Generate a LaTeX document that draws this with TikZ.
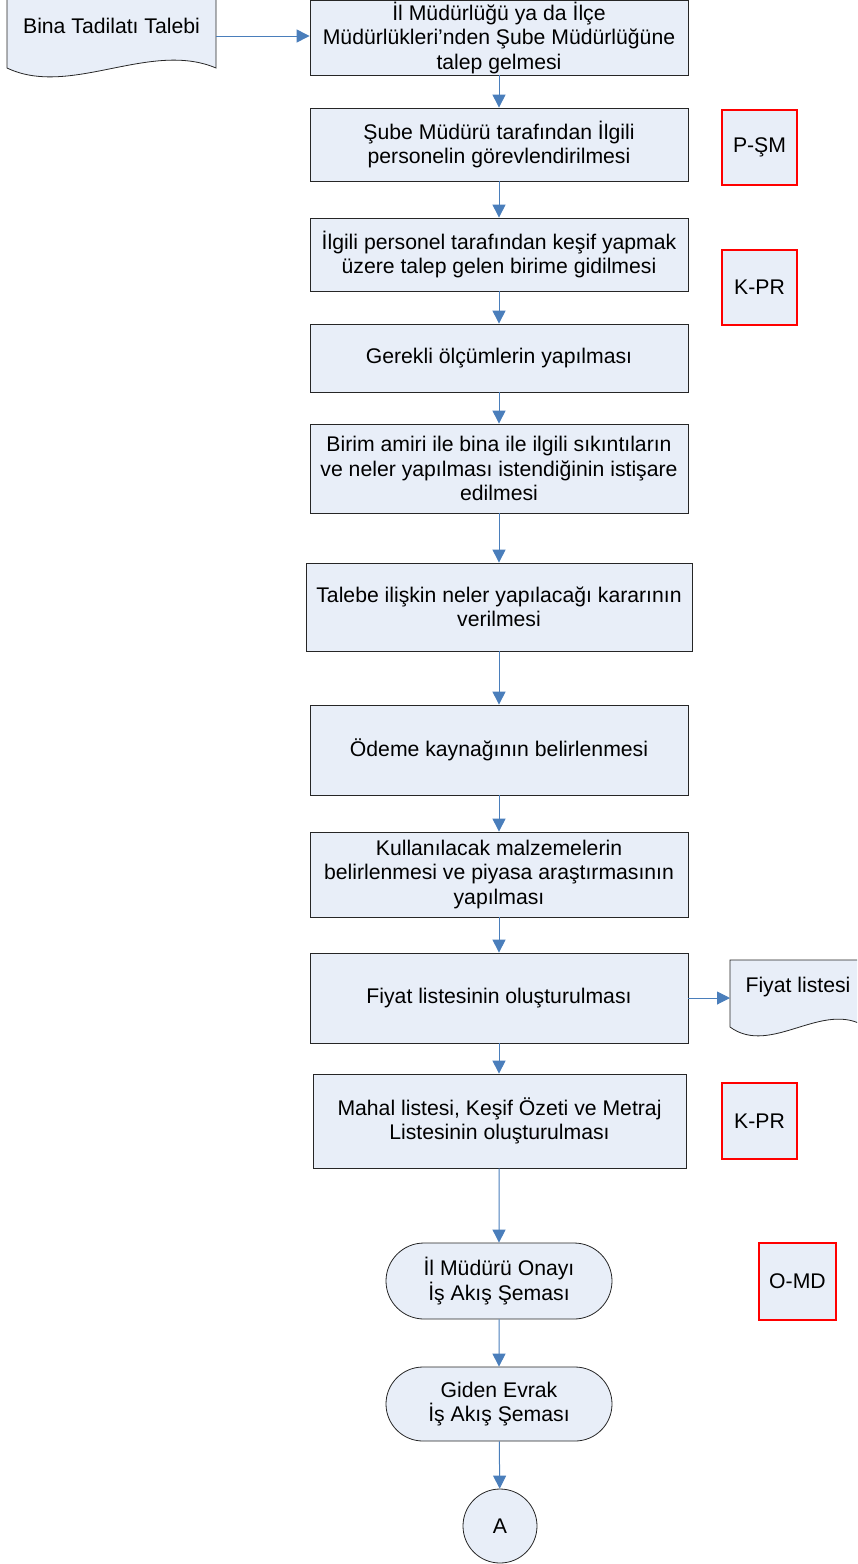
\documentclass[tikz,border=0pt]{standalone}
\usepackage{fontspec}
\setmainfont{Liberation Sans}
\usetikzlibrary{arrows.meta,shapes.misc}
\definecolor{boxfill}{HTML}{E8EEF8}
\definecolor{arrowblue}{HTML}{4A7EBB}
\tikzset{
  txt/.style={font=\fontsize{21.2}{24.5}\selectfont, align=center},
  proc/.style={txt, draw=black!85, fill=boxfill, line width=0.8pt, inner sep=0pt, minimum width=378pt},
  term/.style={txt, draw=black!85, fill=boxfill, line width=0.8pt, inner sep=0pt, rounded rectangle, minimum width=226pt},
  tag/.style={txt, draw=red, fill=boxfill, line width=2.8pt, inner sep=0pt, minimum width=75pt, minimum height=75pt},
  docshape/.style={draw=black!85, fill=boxfill, line width=0.8pt},
  flow/.style={draw=arrowblue, line width=1pt, -{Triangle[length=13pt,width=13pt]}}
}
\begin{document}
\begin{tikzpicture}[x=1pt,y=-1pt]
\useasboundingbox (0,0) rectangle (857,1564);
\clip (0,0) rectangle (857,1564);
% document shapes
\draw[docshape] (7,-3) -- (7,68) .. controls (70,98) and (150,40) .. (216,68) -- (216,-3) -- cycle;
\node[txt] (doc1) at (111.5,26) {Bina Tadilatı Talebi};
\coordinate (doc1r) at (216,36);
\draw[docshape] (730,960) -- (730,1027) .. controls (771,1057) and (823,999) .. (866,1027) -- (866,960) -- cycle;
\node[txt] (doc2) at (798,987) {Fiyat listesi};
\coordinate (doc2l) at (730,998);
% process boxes
\node[proc, minimum height=75pt] (b1) at (499,37.5) {İl Müdürlüğü ya da İlçe\\Müdürlükleri’nden Şube Müdürlüğüne\\talep gelmesi};
\node[proc, minimum height=73pt] (b2) at (499,144.5) {Şube Müdürü tarafından İlgili\\personelin görevlendirilmesi};
\node[proc, minimum height=73pt] (b3) at (499,254.5) {İlgili personel tarafından keşif yapmak\\üzere talep gelen birime gidilmesi};
\node[proc, minimum height=68pt] (b4) at (499,358) {Gerekli ölçümlerin yapılması};
\node[proc, minimum height=89pt] (b5) at (499,468.5) {Birim amiri ile bina ile ilgili sıkıntıların\\ve neler yapılması istendiğinin istişare\\edilmesi};
\node[proc, minimum height=88pt, minimum width=386pt] (b6) at (499,607) {Talebe ilişkin neler yapılacağı kararının\\verilmesi};
\node[proc, minimum height=90pt] (b7) at (499,750) {Ödeme kaynağının belirlenmesi};
\node[proc, minimum height=85pt] (b8) at (499,874.5) {Kullanılacak malzemelerin\\belirlenmesi ve piyasa araştırmasının\\yapılması};
\node[proc, minimum height=90pt] (b9) at (499,998) {Fiyat listesinin oluşturulması};
\node[proc, minimum height=94pt, minimum width=373pt] (b10) at (499.5,1121) {Mahal listesi, Keşif Özeti ve Metraj\\Listesinin oluşturulması};
\node[term, minimum height=76pt] (t1) at (499,1281) {İl Müdürü Onayı\\İş Akış Şeması};
\node[term, minimum height=74pt] (t2) at (499,1404) {Giden Evrak\\İş Akış Şeması};
\node[txt, circle, draw=black!85, fill=boxfill, line width=0.8pt, minimum size=74pt, inner sep=0pt] (c) at (500,1526) {A};
% tags
\node[tag] (p1) at (759.5,147.5) {P-ŞM};
\node[tag] (p2) at (759.5,287.5) {K-PR};
\node[tag, minimum height=76pt] (p3) at (759.5,1121) {K-PR};
\node[tag, minimum width=77pt, minimum height=77pt] (p4) at (797.5,1281.5) {O-MD};
% connectors
\draw[flow] (doc1r) -- (doc1r -| b1.west);
\draw[flow] (b1) -- (b2);
\draw[flow] (b2) -- (b3);
\draw[flow] (b3) -- (b4);
\draw[flow] (b4) -- (b5);
\draw[flow] (b5) -- (b6);
\draw[flow] (b6) -- (b7);
\draw[flow] (b7) -- (b8);
\draw[flow] (b8) -- (b9);
\draw[flow] (b9) -- (b10.north -| b9.south);
\draw[flow] (b9.east) -- (doc2l);
\draw[flow] (b10.south -| t1.north) -- (t1);
\draw[flow] (t1) -- (t2);
\draw[flow] (t2) -- (c);
\end{tikzpicture}
\end{document}
